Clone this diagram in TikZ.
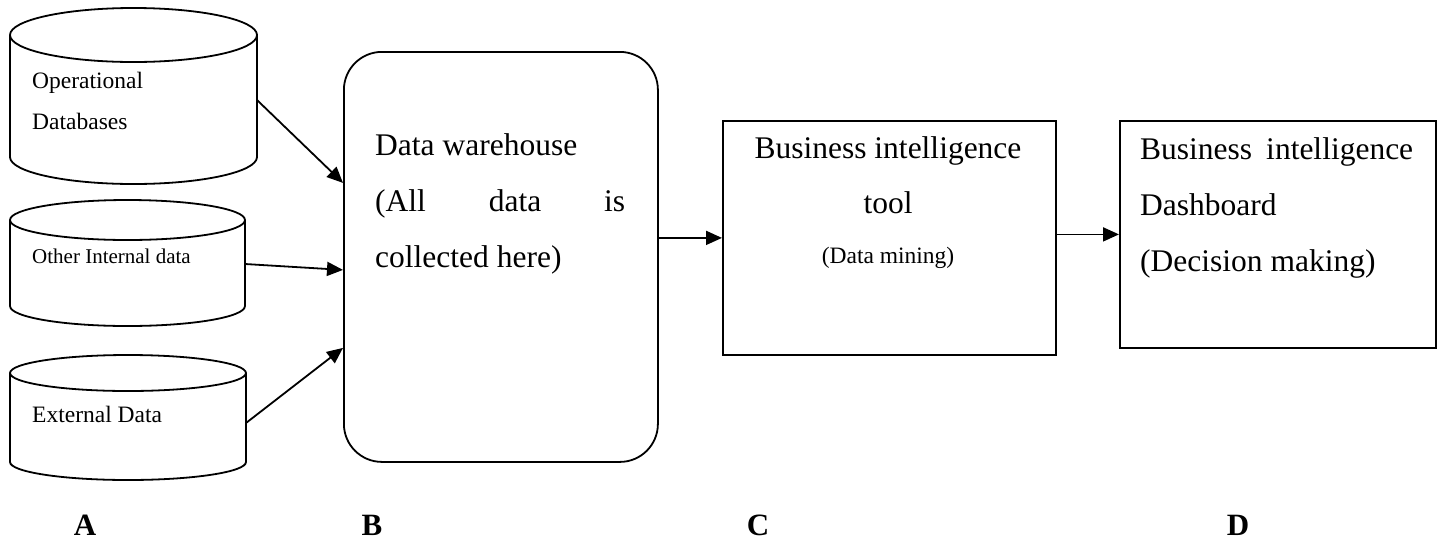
\documentclass[tikz,border=0pt]{standalone}
\usepackage{fontspec}
\setmainfont{Liberation Serif}
\usetikzlibrary{arrows.meta}
\newcommand\myfs[1]{\fontsize{#1}{#1}\selectfont}
\newcommand\mycyl[5]{%
  \draw[shp] ({(#1+#2)/2},#3) ellipse [x radius={(#2-#1)/2}, y radius=#5];
  \draw[shp] (#1,#3) -- (#1,#4) arc[start angle=180, end angle=0, x radius={(#2-#1)/2}, y radius=#5] -- (#2,#3);
}
\begin{document}
\begin{tikzpicture}[x=1pt,y=-1pt]
\tikzset{
  shp/.style={draw, line width=1.8pt},
  blk/.style={draw, line width=1.8pt, inner sep=0pt, anchor=north west},
  ghost/.style={inner sep=0pt, outer sep=0pt, anchor=north west},
  arr/.style={-{Triangle[length=16pt,width=14pt]}, line width=1.8pt},
  big/.style={inner sep=0pt, anchor=base west, font=\myfs{31.5}},
  bigc/.style={inner sep=0pt, anchor=base, font=\myfs{31.5}},
  sm/.style={inner sep=0pt, anchor=base west, font=\myfs{23.5}},
  letter/.style={inner sep=0pt, anchor=base, font=\myfs{31}\bfseries}
}
\useasboundingbox (0,0) rectangle (1442,539);
\fill[white] (0,0) rectangle (1442,539);

% cylinders (sources)
\node[ghost, minimum width=247pt, minimum height=176pt] (c1) at (10,8) {};
\node[ghost, minimum width=235pt, minimum height=126pt] (c2) at (10,200) {};
\node[ghost, minimum width=236pt, minimum height=125pt] (c3) at (10,355) {};
\mycyl{10}{257}{35}{157}{27}
\mycyl{10}{245}{220}{306}{20}
\mycyl{10}{246}{373}{462}{18}

\node[sm] (op1) at (32,88) {Operational};
\node[sm] (op2) at (32,129) {Databases};
\node[sm, font=\myfs{21}] (oth) at (32,263) {Other Internal data};
\node[sm] (ext) at (32,422) {External Data};

% data warehouse
\node[blk, rounded corners=38pt, minimum width=314pt, minimum height=410pt] (dw) at (343,51) {};
\node[big] (dw1) at (375,155) {Data warehouse};
\node[big] (dw2) at (375,211) {\makebox[250pt][s]{(All data is}};
\node[big] (dw3) at (375,267) {collected here)};

% BI tool
\node[blk, minimum width=333pt, minimum height=234pt] (bi) at (722,120) {};
\node[bigc] (bi1) at (888,158) {Business intelligence};
\node[bigc] (bi2) at (888,213) {tool};
\node[bigc, font=\myfs{23.5}] (bi3) at (888,263) {(Data mining)};

% dashboard
\node[blk, minimum width=316pt, minimum height=227pt] (dash) at (1119,120) {};
\node[big] (da1) at (1140,159) {\makebox[273pt][s]{Business intelligence}};
\node[big] (da2) at (1140,215) {Dashboard};
\node[big] (da3) at (1140,271) {(Decision making)};

% connectors
\path (c1.east) ++(0,4) coordinate (s1);
\path (c2.east) ++(0,1) coordinate (s2);
\path (c3.east) ++(0,5.5) coordinate (s3);
\path (dw.west) ++(0,-74) coordinate (e1);
\path (dw.west) ++(0,13) coordinate (e2);
\path (dw.west) ++(0,91) coordinate (e3);
\draw[arr] (s1) -- (e1);
\draw[arr] (s2) -- (e2);
\draw[arr] (s3) -- (e3);
\draw[arr] (dw.east |- bi.west) -- (bi.west);
\draw[arr] (bi.east |- dash.west) -- (dash.west);

% column letters
\node[letter] (la) at (85,535) {A};
\node[letter] (lb) at (372,535) {B};
\node[letter] (lc) at (758,535) {C};
\node[letter] (ld) at (1238,535) {D};
\end{tikzpicture}
\end{document}
